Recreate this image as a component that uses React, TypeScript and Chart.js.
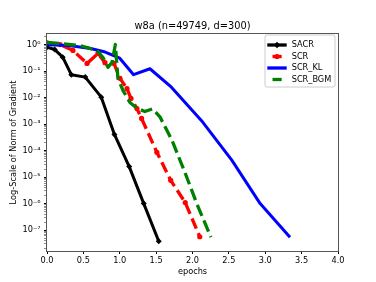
import React, { useEffect, useRef } from "react";
import { Chart, registerables } from "chart.js";

Chart.register(...registerables);

const TITLE = "w8a (n=49749, d=300)";
const X_LABEL = "epochs";
const Y_LABEL = "Log-Scale of Norm of Gradient";
const X_MIN = 0;
const X_MAX = 4;
const X_STEP = 0.5;
const Y_MIN = 1.62e-8;
const Y_MAX = 2.55;
const Y_DECADES = [-8, -7, -6, -5, -4, -3, -2, -1, 0];

const SERIES_NAMES = ["SACR", "SCR", "SCR_KL", "SCR_BGM"];
const SERIES_COLORS = ["#000000", "#ff0000", "#0000ff", "#008000"];

const SACR_X = [0, 0.106, 0.216, 0.334, 0.526, 0.746, 0.927, 1.13, 1.33, 1.536];
const SACR_Y = [0.81, 0.66, 0.34, 0.074, 0.06, 0.0105, 4.1e-4, 2.5e-5, 1.0e-6, 3.8e-8];

const SCR_X = [0, 0.18, 0.357, 0.55, 0.7, 0.797, 0.92, 1.003, 1.1, 1.154, 1.236, 1.3, 1.51, 1.7, 1.9, 2.1];
const SCR_Y = [1.17, 1.02, 0.61, 0.197, 0.47, 0.21, 0.197, 0.054, 0.022, 9.4e-3, 3.9e-3, 1.65e-3, 8.7e-5, 7.6e-6, 1.1e-6, 5.6e-8];

const KL_X = [0, 0.3, 0.6, 0.8, 1.0, 1.19, 1.415, 1.71, 2.14, 2.54, 2.93, 3.34];
const KL_Y = [1.0, 0.93, 0.72, 0.53, 0.31, 0.074, 0.124, 0.025, 1.2e-3, 4.4e-5, 1.0e-6, 5.4e-8];

const BGM_X = [0, 0.18, 0.453, 0.687, 0.77, 0.838, 0.893, 0.94, 0.975, 1.044, 1.14, 1.236, 1.346, 1.45, 1.552, 1.717, 1.896, 2.06, 2.253];
const BGM_Y = [1.22, 1.12, 0.94, 0.61, 0.33, 0.14, 0.215, 1.02, 0.053, 0.019, 6.6e-3, 4e-3, 3e-3, 3.8e-3, 1.9e-3, 2.5e-4, 1.5e-5, 9.8e-7, 5.4e-8];

const FONT = "DejaVu Sans";
const SUP: Record<string, string> = {
  "-": "\u207B", "0": "\u2070", "1": "\u00B9", "2": "\u00B2", "3": "\u00B3",
  "4": "\u2074", "5": "\u2075", "6": "\u2076", "7": "\u2077", "8": "\u2078", "9": "\u2079",
};
const sup = (n: number) => String(n).split("").map((c) => SUP[c] || c).join("");

const pts = (xs: number[], ys: number[]) => xs.map((x, i) => ({ x, y: ys[i] }));

const isPow10 = (v: number) => {
  const e = Math.round(Math.log10(v));
  return Math.abs(v - Math.pow(10, e)) / Math.pow(10, e) < 1e-6;
};

const framePlugin = {
  id: "frameAndTitle",
  afterDraw(chart: any) {
    const { ctx, chartArea } = chart;
    const { left, right, top, bottom } = chartArea;
    ctx.save();
    // spines
    ctx.strokeStyle = "#555555";
    ctx.lineWidth = 1;
    ctx.strokeRect(left - 0.5, top - 0.5, right - left + 1, bottom - top + 1);
    // title
    ctx.fillStyle = "#000";
    ctx.font = `9.8px "${FONT}"`;
    ctx.textAlign = "center";
    ctx.textBaseline = "middle";
    ctx.fillText(TITLE, (left + right) / 2, top - 8);

    // legend
    const bw = 70;
    const bh = 52;
    const bx = right - 3 - bw;
    const by = top + 1;
    const r = 2;
    ctx.beginPath();
    ctx.moveTo(bx + r, by);
    ctx.lineTo(bx + bw - r, by);
    ctx.quadraticCurveTo(bx + bw, by, bx + bw, by + r);
    ctx.lineTo(bx + bw, by + bh - r);
    ctx.quadraticCurveTo(bx + bw, by + bh, bx + bw - r, by + bh);
    ctx.lineTo(bx + r, by + bh);
    ctx.quadraticCurveTo(bx, by + bh, bx, by + bh - r);
    ctx.lineTo(bx, by + r);
    ctx.quadraticCurveTo(bx, by, bx + r, by);
    ctx.closePath();
    ctx.fillStyle = "rgba(255,255,255,0.8)";
    ctx.fill();
    ctx.strokeStyle = "#cccccc";
    ctx.lineWidth = 1;
    ctx.stroke();

    SERIES_NAMES.forEach((name, i) => {
      const cy = by + 10 + i * 11.5;
      const color = SERIES_COLORS[i];
      ctx.strokeStyle = color;
      ctx.fillStyle = color;
      ctx.lineWidth = 3.3;
      ctx.lineCap = "butt";
      ctx.beginPath();
      if (i === 0 || i === 2) {
        ctx.moveTo(bx + 2.3, cy);
        ctx.lineTo(bx + 21.7, cy);
      } else {
        ctx.moveTo(bx + 7.5, cy);
        ctx.lineTo(bx + 16.7, cy);
      }
      ctx.stroke();
      if (i === 0) {
        ctx.beginPath();
        ctx.moveTo(bx + 12, cy - 3.2);
        ctx.lineTo(bx + 15.2, cy);
        ctx.lineTo(bx + 12, cy + 3.2);
        ctx.lineTo(bx + 8.8, cy);
        ctx.closePath();
        ctx.fill();
      } else if (i === 1) {
        ctx.beginPath();
        ctx.arc(bx + 12, cy, 2.6, 0, Math.PI * 2);
        ctx.fill();
      }
      ctx.fillStyle = "#000";
      ctx.font = `8.2px "${FONT}"`;
      ctx.textAlign = "left";
      ctx.textBaseline = "middle";
      ctx.fillText(name, bx + 26.7, cy);
    });
    ctx.restore();
  },
};

export default function App() {
  const ref = useRef<HTMLCanvasElement | null>(null);

  useEffect(() => {
    if (!ref.current) return;
    Chart.defaults.font.family = FONT;
    const yTicks: number[] = [];
    Y_DECADES.forEach((d) => {
      for (let m = 1; m <= 9; m++) {
        const v = m * Math.pow(10, d);
        if (v >= Y_MIN && v <= Y_MAX) yTicks.push(v);
      }
    });

    const lineBase = { tension: 0, fill: false, borderJoinStyle: "round" as const };
    const chart = new Chart(ref.current, {
      type: "line",
      data: {
        datasets: [
          {
            ...lineBase,
            label: SERIES_NAMES[0],
            data: pts(SACR_X, SACR_Y),
            borderColor: SERIES_COLORS[0],
            backgroundColor: SERIES_COLORS[0],
            borderWidth: 3,
            pointStyle: "rectRot",
            pointRadius: 3,
            pointBorderWidth: 0,
            order: 4,
          },
          {
            ...lineBase,
            label: SERIES_NAMES[1],
            data: pts(SCR_X, SCR_Y),
            borderColor: SERIES_COLORS[1],
            backgroundColor: SERIES_COLORS[1],
            borderWidth: 3.3,
            borderDash: [11, 5],
            borderCapStyle: "butt",
            pointStyle: "circle",
            pointRadius: 2.6,
            pointBorderWidth: 0,
            order: 3,
          },
          {
            ...lineBase,
            label: SERIES_NAMES[2],
            data: pts(KL_X, KL_Y),
            borderColor: SERIES_COLORS[2],
            backgroundColor: SERIES_COLORS[2],
            borderWidth: 3,
            pointRadius: 0,
            order: 2,
          },
          {
            ...lineBase,
            label: SERIES_NAMES[3],
            data: pts(BGM_X, BGM_Y),
            borderColor: SERIES_COLORS[3],
            backgroundColor: SERIES_COLORS[3],
            borderWidth: 3.3,
            borderDash: [12, 5],
            borderCapStyle: "butt",
            pointRadius: 0,
            order: 1,
          },
        ],
      },
      options: {
        responsive: false,
        animation: false,
        events: [],
        layout: { padding: { top: 34, right: 38, left: 0, bottom: 0 } },
        plugins: {
          legend: { display: false },
          tooltip: { enabled: false },
          title: { display: false },
        },
        scales: {
          x: {
            type: "linear",
            min: X_MIN,
            max: X_MAX,
            afterFit: (s: any) => {
              s.height = 31;
            },
            border: { display: false },
            grid: {
              drawOnChartArea: false,
              drawTicks: true,
              tickLength: 3,
              tickColor: "#000",
              tickWidth: 1,
            },
            ticks: {
              stepSize: X_STEP,
              padding: 1.5,
              color: "#000",
              font: { size: 8.2, family: FONT },
              maxRotation: 0,
              autoSkip: false,
              callback: (v: any) => Number(v).toFixed(1),
            },
            title: {
              display: true,
              text: X_LABEL,
              color: "#000",
              font: { size: 8.2, family: FONT },
              padding: { top: 0, bottom: 5.4 },
            },
          },
          y: {
            type: "logarithmic",
            min: Y_MIN,
            max: Y_MAX,
            bounds: "data",
            afterFit: (s: any) => {
              s.width = 47;
            },
            afterBuildTicks: (s: any) => {
              s.ticks = yTicks.map((v) => ({ value: v }));
            },
            border: { display: false },
            grid: {
              drawOnChartArea: false,
              drawTicks: true,
              tickLength: 3,
              tickColor: (c: any) => (c.tick && isPow10(c.tick.value) ? "#000" : "#444"),
              tickWidth: (c: any) => (c.tick && isPow10(c.tick.value) ? 1 : 0.6),
            },
            ticks: {
              padding: 3.5,
              color: "#000",
              autoSkip: false,
              font: { size: 8.2, family: FONT },
              callback: (v: any) => {
                const val = Number(v);
                if (!isPow10(val)) return "";
                return "10" + sup(Math.round(Math.log10(val)));
              },
            },
            title: {
              display: true,
              text: Y_LABEL,
              color: "#000",
              font: { size: 8.2, family: FONT },
              padding: { top: 8.9, bottom: 0 },
            },
          },
        },
      } as any,
      plugins: [framePlugin],
    });
    return () => chart.destroy();
  }, []);

  return (
    <div style={{ position: "fixed", left: 0, top: 0, width: 376, height: 282, background: "#fff" }}>
      <canvas ref={ref} width={376} height={282} style={{ width: 376, height: 282, display: "block" }} />
    </div>
  );
}
